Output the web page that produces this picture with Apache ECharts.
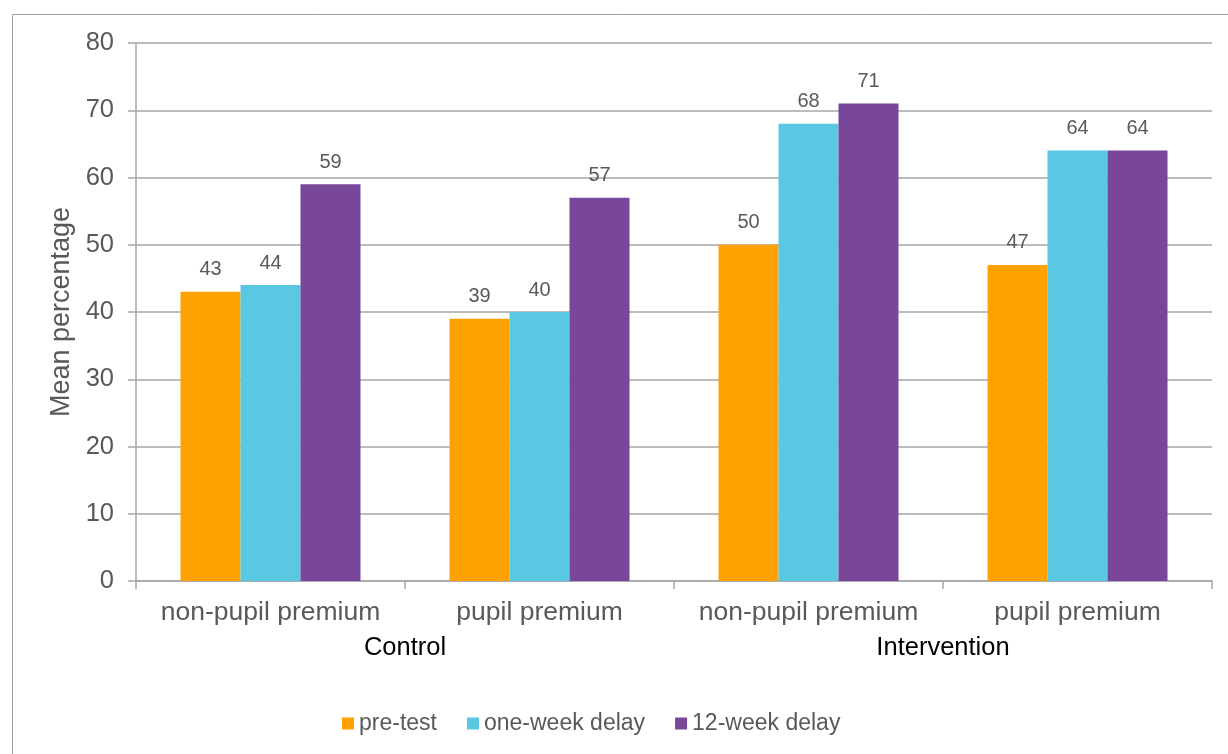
<!DOCTYPE html>
<html>
<head>
<meta charset="utf-8">
<script src="https://cdn.jsdelivr.net/npm/echarts@6/dist/echarts.min.js"></script>
<style>
  html, body { margin: 0; padding: 0; background: #ffffff; }
  #chart { width: 1228px; height: 754px; }
</style>
</head>
<body>
<div id="chart"></div>
<script>
// Mean percentage by group, pupil-premium status and test time
const categories = ['non-pupil premium', 'pupil premium', 'non-pupil premium', 'pupil premium'];
const groups = ['Control', 'Intervention'];
const seriesNames = ['pre-test', 'one-week delay', '12-week delay'];
const preTest = [43, 39, 50, 47];
const oneWeekDelay = [44, 40, 68, 64];
const twelveWeekDelay = [59, 57, 71, 64];
const yTicks = { min: 0, max: 80, interval: 10 };

const colors = ['#FFA100', '#5AC8E2', '#784799'];
const font = '"Liberation Sans", Arial, sans-serif';
const axisGray = '#A6A6A6';

const chart = echarts.init(document.getElementById('chart'));

function barSeries(name, values, color) {
  return {
    name: name,
    type: 'bar',
    xAxisIndex: 0,
    data: values,
    barWidth: 60,
    barGap: '0%',
    itemStyle: { color: color },
    label: {
      show: true,
      position: 'top',
      distance: 12,
      color: '#595959',
      fontFamily: font,
      fontSize: 20
    }
  };
}

chart.setOption({
  animation: false,
  color: colors,
  graphic: [{
    type: 'rect',
    shape: { x: 12.5, y: 14.5, width: 1400, height: 900 },
    style: { fill: 'none', stroke: '#A0A0A0', lineWidth: 1 },
    silent: true,
    z: -1
  }],
  grid: { left: 136, right: 16, top: 43, bottom: 173 },
  legend: {
    left: 337,
    top: 707,
    itemWidth: 12,
    itemHeight: 12,
    itemGap: 30,
    icon: 'rect',
    textStyle: { color: '#595959', fontFamily: font, fontSize: 23 },
    data: seriesNames
  },
  xAxis: [{
    type: 'category',
    data: categories,
    position: 'bottom',
    axisLine: { show: true, lineStyle: { color: axisGray, width: 1.5 } },
    axisTick: { show: true, interval: 0, length: 8, lineStyle: { color: axisGray, width: 1.5 } },
    axisLabel: { interval: 0, color: '#595959', fontFamily: font, fontSize: 26.5, margin: 18 }
  }, {
    type: 'category',
    data: groups,
    position: 'bottom',
    axisLine: { show: false },
    axisTick: { show: false },
    axisLabel: { interval: 0, color: '#000000', fontFamily: font, fontSize: 25.5, margin: 54 }
  }],
  yAxis: {
    type: 'value',
    min: yTicks.min,
    max: yTicks.max,
    interval: yTicks.interval,
    name: 'Mean percentage',
    nameLocation: 'middle',
    nameGap: 60,
    nameRotate: 90,
    nameTextStyle: { color: '#595959', fontFamily: font, fontSize: 27 },
    axisLine: { show: true, lineStyle: { color: axisGray, width: 1.5 } },
    axisTick: { show: true, length: 8, lineStyle: { color: axisGray, width: 1.5 } },
    axisLabel: { color: '#595959', fontFamily: font, fontSize: 25.5, margin: 22 },
    splitLine: { show: true, lineStyle: { color: axisGray, width: 1.5 } }
  },
  series: [
    barSeries(seriesNames[0], preTest, colors[0]),
    barSeries(seriesNames[1], oneWeekDelay, colors[1]),
    barSeries(seriesNames[2], twelveWeekDelay, colors[2])
  ]
});
</script>
</body>
</html>
